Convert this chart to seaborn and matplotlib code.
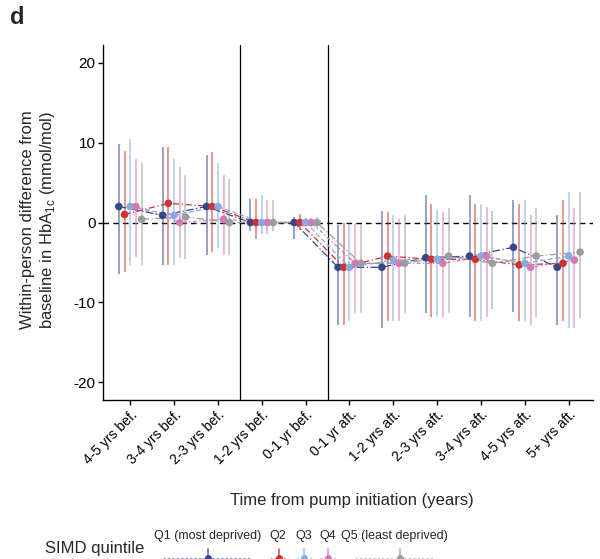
import numpy as np
import pandas as pd
import matplotlib
matplotlib.use("Agg")
import matplotlib.pyplot as plt
from matplotlib.lines import Line2D
import seaborn as sns

# Time periods relative to insulin pump start
periods = ["4-5 yrs bef.", "3-4 yrs bef.", "2-3 yrs bef.", "1-2 yrs bef.", "0-1 yr bef.",
           "0-1 yr aft.", "1-2 yrs aft.", "2-3 yrs aft.", "3-4 yrs aft.", "4-5 yrs aft.",
           "5+ yrs aft."]
quintiles = ["Q1 (most deprived)", "Q2", "Q3", "Q4", "Q5 (least deprived)"]

# Mean within-person change in HbA1c (mmol/mol) per quintile
q1_mean = [2.0, 0.9, 2.0, 0.0, 0.0, -5.6, -5.6, -4.4, -4.2, -3.1, -5.6]
q2_mean = [1.0, 2.4, 2.0, 0.0, 0.0, -5.6, -4.2, -4.6, -4.6, -5.3, -5.1]
q3_mean = [2.0, 0.9, 2.0, 0.0, 0.0, -5.6, -4.7, -4.6, -4.2, -5.1, -4.2]
q4_mean = [2.0, 0.0, 0.4, 0.0, 0.0, -5.1, -5.1, -5.1, -4.2, -5.6, -4.7]
q5_mean = [0.4, 0.7, 0.0, 0.0, 0.0, -5.1, -5.1, -4.2, -5.1, -4.2, -3.7]

# Lower / upper interval bounds
q1_lo = [-6.5, -5.3, -4.1, -1.1, -2.0, -12.8, -13.2, -11.3, -11.8, -11.2, -12.8]
q1_hi = [9.8, 9.4, 8.5, 2.9, 0.7, -0.3, 1.5, 3.5, 3.4, 2.8, 0.9]
q2_lo = [-6.2, -5.3, -3.7, -2.1, -0.9, -12.8, -12.3, -11.8, -12.3, -12.3, -12.3]
q2_hi = [9.0, 9.5, 8.8, 3.0, 1.1, 0.0, 1.3, 2.3, 2.3, 2.3, 2.8]
q3_lo = [-5.3, -5.3, -3.2, -1.4, -0.6, -12.3, -12.3, -11.8, -12.3, -12.3, -13.2]
q3_hi = [10.5, 8.0, 7.5, 3.4, 0.6, -0.2, 0.9, 1.6, 2.3, 2.8, 3.8]
q4_lo = [-4.3, -4.5, -4.1, -1.4, -0.6, -11.3, -12.3, -11.8, -11.8, -12.8, -13.2]
q4_hi = [8.0, 6.9, 6.0, 2.8, 0.6, -0.2, 0.5, 1.3, 1.9, 0.9, 1.8]
q5_lo = [-5.3, -4.6, -4.1, -1.1, -0.6, -11.3, -11.3, -11.3, -10.8, -11.8, -12.0]
q5_hi = [7.5, 6.0, 5.4, 2.8, 0.7, -0.2, 0.9, 1.8, 1.4, 1.8, 3.8]

palette = ["#34478b", "#d03232", "#86ace2", "#d27ab6", "#9c9c9c"]
dash_styles = [(6, 2, 1, 2), (5, 2, 1, 2), (4, 2), (3, 2, 1, 2), (6, 2, 1, 2)]

means = [q1_mean, q2_mean, q3_mean, q4_mean, q5_mean]
lows = [q1_lo, q2_lo, q3_lo, q4_lo, q5_lo]
highs = [q1_hi, q2_hi, q3_hi, q4_hi, q5_hi]

dodge = 0.13
rows = []
for qi, q in enumerate(quintiles):
    for pi, p in enumerate(periods):
        rows.append({"period": p, "quintile": q,
                     "x": pi + (qi - 2) * dodge,
                     "mean": means[qi][pi], "lo": lows[qi][pi], "hi": highs[qi][pi]})
df = pd.DataFrame(rows)

sns.set_theme(style="white")
plt.rcParams["font.family"] = ["Liberation Sans", "DejaVu Sans"]

fig = plt.figure(figsize=(6.0, 5.59), dpi=100)
ax = fig.add_axes([0.1717, 0.2844, 0.8163, 0.6351])

# Reference lines: baseline and period separators
ax.axhline(0, color="black", lw=1.0, ls=(0, (4, 3)), zorder=1)
for xv in (2.5, 4.5):
    ax.axvline(xv, color="black", lw=0.9, zorder=1)

for qi, q in enumerate(quintiles):
    sub = df[df["quintile"] == q]
    ax.vlines(sub["x"], sub["lo"], sub["hi"], color=palette[qi], alpha=0.55,
              lw=1.3, zorder=2)
    sns.lineplot(data=sub, x="x", y="mean", color=palette[qi], lw=0.9,
                 dashes=False, ax=ax, zorder=3, legend=False, sort=True,
                 estimator=None).lines[-1].set_dashes(dash_styles[qi])
    sns.scatterplot(data=sub, x="x", y="mean", color=palette[qi], s=30,
                    edgecolor="none", ax=ax, zorder=4, legend=False)

ax.set_xlim(-0.62, 10.55)
ax.set_ylim(-22.2, 22.2)
ax.set_xticks(range(len(periods)))
ax.set_xticklabels(periods, rotation=45, ha="right", rotation_mode="anchor",
                   fontsize=10)
ax.set_yticks([-20, -10, 0, 10, 20])
ax.set_yticklabels(["-20", "-10", "0", "10", "20"], fontsize=11)
ax.tick_params(axis="both", direction="out", length=3.5, width=1.0,
               color="black", labelcolor="black", pad=2, bottom=True, left=True)
for side in ("top", "right"):
    ax.spines[side].set_visible(False)
for side in ("left", "bottom"):
    ax.spines[side].set_color("black")
    ax.spines[side].set_linewidth(1.0)
ax.set_xlabel("")
ax.set_ylabel("")

fig.text(352 / 600, 1 - 500 / 559, "Time from pump initiation (years)",
         ha="center", va="center", fontsize=12)
fig.text(28 / 600, 1 - 220 / 559, "Within-person difference from",
         ha="center", va="center", rotation=90, fontsize=12)
fig.text(48 / 600, 1 - 220 / 559, r"baseline in HbA$_{\mathregular{1c}}$ (mmol/mol)",
         ha="center", va="center", rotation=90, fontsize=12)
fig.text(10 / 600, 1 - 18 / 559, "d", ha="left", va="center",
         fontsize=17, fontweight="bold")

# Legend laid out along the bottom
fig.text(45 / 600, 1 - 549 / 559, "SIMD quintile", ha="left", va="center",
         fontsize=12)
label_x = [208, 278, 303.5, 328, 394]
key_x = [208, 279, 304, 328, 400]
key_span = [(163, 250), (270, 288), (296, 312), (320, 336), (355, 435)]
for qi, q in enumerate(quintiles):
    fig.text(label_x[qi] / 600, 1 - 536 / 559, q, ha="center", va="center",
             fontsize=9)
    y0 = 1 - 558 / 559
    x0, x1 = key_span[qi]
    fig.add_artist(Line2D([x0 / 600, x1 / 600], [y0, y0], color=palette[qi],
                          lw=0.8, alpha=0.6, dashes=(2, 2),
                          transform=fig.transFigure))
    fig.add_artist(Line2D([key_x[qi] / 600] * 2, [y0, 1 - 549 / 559],
                          color=palette[qi], lw=1.2, alpha=0.8,
                          transform=fig.transFigure))
    fig.add_artist(Line2D([key_x[qi] / 600], [y0], color=palette[qi],
                          marker="o", markersize=4, lw=0,
                          transform=fig.transFigure))

fig.savefig("out.png", dpi=100)
